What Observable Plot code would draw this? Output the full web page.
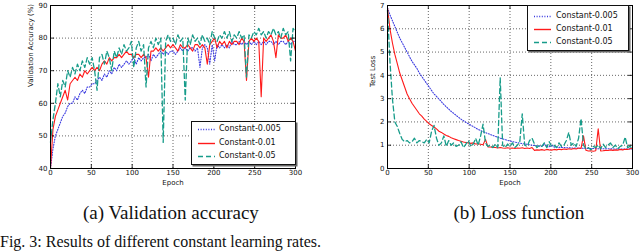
<!DOCTYPE html>
<html>
<head>
<meta charset="utf-8">
<script src="https://cdn.jsdelivr.net/npm/d3@7"></script>
<script src="https://cdn.jsdelivr.net/npm/@observablehq/plot@0.6"></script>
<style>
  html, body { margin: 0; padding: 0; background: #fff; }
  #wrap { position: relative; width: 640px; height: 252px; overflow: hidden; background: #fff; font-family: "DejaVu Sans", sans-serif; }
  .panel { position: absolute; top: 0; }
  .legend { position: absolute; background: #fff; border: 1px solid #111; box-shadow: 1.5px 1.5px 0 #666; font-family: "DejaVu Sans", sans-serif; font-size: 8px; color: #111; }
  .legend .row { position: absolute; left: 0; height: 12px; width: 100%; }
  .legend svg { position: absolute; left: 0; top: 0; }
  .legend span { position: absolute; top: 0; line-height: 12px; white-space: nowrap; }
  .cap { position: absolute; font-family: "Liberation Serif", "Times New Roman", serif; font-size: 19px; color: #111; white-space: nowrap; line-height: 1.1; }
</style>
</head>
<body>
<div id="wrap">
  <div id="left" class="panel" style="left:0px"></div>
  <div id="right" class="panel" style="left:320px"></div>
</div>
<script>
// ---- data ----
const seriesNames = ["Constant-0.005", "Constant-0.01", "Constant-0.05"];
const xTicks = [0, 50, 100, 150, 200, 250, 300];
const accTicks = [40, 50, 60, 70, 80, 90];
const lossTicks = [0, 1, 2, 3, 4, 5, 6, 7];

const epochs = [0,3,6,9,12,15,18,21,24,27,30,33,36,39,42,45,48,51,54,57,60,63,66,69,72,75,78,81,84,87,90,93,96,99,102,105,108,111,114,117,120,123,126,129,132,135,138,141,144,147,150,153,156,159,162,165,168,171,174,177,180,183,186,189,192,195,198,201,204,207,210,213,216,219,222,225,228,231,234,237,240,243,246,249,252,255,258,261,264,267,270,273,276,279,282,285,288,291,294,297,300];

const accB = [40,46,50,52,54,56,57,59,60,60,62,61,63,64,63,65,65,66,66,67,68,67,69,68,70,69,71,70,72,71,72,73,72,73,74,72,74,73,74,74,75,73,75,74,75,76,75,76,75,76,76,75,76,77,76,77,76,77,77,76,77,71,77,78,77,72,78,73,78,77,78,77,78,77,79,78,78,79,78,79,78,79,78,79,78,79,78,79,78,79,79,78,79,78,79,79,78,79,78,79,79];
const accR = [40,52,56,58,60,62,64,61,66,67,68,67,69,68,70,69,70,71,70,71,70,72,73,72,74,73,74,74,75,74,75,76,75,75,74,75,75,74,75,74,68,76,76,77,76,77,76,77,78,77,78,77,76,78,77,77,78,77,76,78,78,77,78,77,72,78,79,80,77,79,78,79,77,79,78,79,79,78,80,79,67,79,80,79,80,79,62,80,79,80,81,79,74,81,80,80,81,79,80,79,76];
const accG = [48,55,60,66,62,67,65,70,68,71,69,72,70,73,71,74,72,74,70,64,74,75,72,76,74,70,76,74,77,75,78,76,77,79,71,77,79,76,78,65,77,79,77,80,78,80,48,79,81,79,80,78,81,79,80,61,80,78,81,79,80,78,81,79,80,78,82,80,79,81,80,82,80,82,79,81,80,82,80,81,68,81,80,82,81,83,81,82,80,82,81,83,81,82,80,83,81,82,73,83,82];

const lossB = [6.9,6.6,6.35,6.1,5.85,5.6,5.4,5.2,5.0,4.8,4.6,4.45,4.3,4.1,3.95,3.8,3.65,3.5,3.35,3.2,3.1,2.98,2.87,2.75,2.65,2.55,2.45,2.37,2.28,2.2,2.12,2.05,1.98,1.92,1.86,1.8,1.74,1.68,1.63,1.58,1.54,1.5,1.46,1.42,1.38,1.34,1.3,1.27,1.24,1.21,1.18,1.16,1.13,1.11,1.09,1.07,1.05,1.04,1.02,1.0,0.99,0.97,0.96,0.95,1.05,0.94,0.93,1.0,0.92,0.91,0.91,0.9,0.9,0.89,0.89,0.88,0.88,0.88,0.87,0.87,0.87,0.86,0.86,0.86,0.86,0.85,0.85,0.85,0.85,0.85,0.85,0.85,0.84,0.84,0.84,0.84,0.84,0.84,0.84,0.84,0.84];
const lossR = [6.9,6.0,5.4,4.9,4.5,4.1,3.8,3.5,3.2,3.0,2.8,2.65,2.5,2.35,2.25,2.12,2.02,1.92,1.85,1.78,1.7,1.6,1.55,1.48,1.42,1.38,1.32,1.28,1.24,1.2,1.17,1.14,1.12,1.1,1.08,1.1,1.05,1.06,1.04,1.02,1.25,0.93,0.92,0.9,0.9,0.88,0.9,0.88,0.87,0.89,0.87,0.88,0.86,0.88,0.87,0.89,0.86,0.88,0.86,0.9,0.78,0.8,0.79,0.81,0.78,0.82,0.8,0.79,0.82,0.8,0.83,0.81,0.84,0.82,0.85,0.83,0.86,0.84,0.88,0.86,1.4,0.78,0.75,0.76,0.74,0.76,1.7,0.75,0.76,0.78,0.77,0.8,0.78,0.8,0.79,0.82,0.8,0.83,0.82,0.85,0.88];
const lossG = [6.8,4.6,3.0,2.0,1.8,1.5,1.25,1.15,1.2,1.1,1.15,1.3,1.1,1.2,1.15,1.1,1.25,1.1,1.6,1.85,1.3,1.0,1.1,1.4,0.95,1.2,1.0,1.1,0.95,1.0,1.15,0.9,1.05,1.2,0.95,1.05,1.3,1.0,1.4,1.9,1.1,0.95,1.0,0.9,1.05,0.9,3.9,1.0,0.9,1.05,0.95,1.1,0.9,1.0,1.15,2.35,1.0,0.95,1.2,1.3,1.05,0.9,1.0,0.95,1.1,0.9,1.15,0.95,1.0,0.9,1.1,0.95,1.0,1.2,1.55,1.0,1.1,0.95,1.3,2.15,1.0,0.85,0.9,0.8,0.95,0.9,1.0,0.85,1.05,0.9,1.0,1.1,0.9,1.0,0.85,0.95,1.0,1.35,0.9,0.95,0.85];

// ---- styles ----
const styles = [
  {stroke: "#3a3ae0", strokeWidth: 1.1, strokeDasharray: "1,1.6"},
  {stroke: "#ff1a1a", strokeWidth: 1.1, strokeDasharray: null},
  {stroke: "#179c8a", strokeWidth: 1.3, strokeDasharray: "5,3"}
];

function rows(vals) { return epochs.map((e, i) => ({epoch: e, v: vals[i]})); }

function panel(opts) {
  const {yDomain, yTicks, series, yLabel, marginLeft, marginRight, tickLenY} = opts;
  const [y0, y1] = yDomain;
  const marks = [
    Plot.ruleX(xTicks.slice(1, -1), {stroke: "#000", strokeOpacity: 0.75, strokeWidth: 0.8, strokeDasharray: "1,2"}),
    Plot.ruleY(yTicks.slice(1, -1), {stroke: "#000", strokeOpacity: 0.75, strokeWidth: 0.8, strokeDasharray: "1,2"}),
  ];
  series.forEach((vals, k) => {
    const s = styles[k];
    const o = {x: "epoch", y: "v", stroke: s.stroke, strokeWidth: s.strokeWidth};
    if (s.strokeDasharray) o.strokeDasharray = s.strokeDasharray;
    marks.push(Plot.line(rows(vals), o));
  });
  // inward ticks (matplotlib style)
  const ty = tickLenY;
  marks.push(Plot.ruleX(xTicks, {y1: y0, y2: y0 + ty, stroke: "#000", strokeWidth: 0.8}));
  marks.push(Plot.ruleX(xTicks, {y1: y1 - ty, y2: y1, stroke: "#000", strokeWidth: 0.8}));
  marks.push(Plot.ruleY(yTicks, {x1: 0, x2: 5, stroke: "#000", strokeWidth: 0.8}));
  marks.push(Plot.ruleY(yTicks, {x1: 295, x2: 300, stroke: "#000", strokeWidth: 0.8}));
  marks.push(Plot.frame({stroke: "#000", strokeWidth: 1}));
  marks.push(Plot.axisX({ticks: xTicks, tickSize: 0, tickPadding: 2, label: null, fontSize: 7, fill: "#111", tickFormat: d => String(d)}));
  marks.push(Plot.axisY({ticks: yTicks, tickSize: 0, tickPadding: 3, label: null, fontSize: 7, fill: "#111", tickFormat: d => String(d)}));
  marks.push(Plot.text(["Epoch"], {text: d => d, frameAnchor: "bottom", dy: 16, fontSize: 7, fill: "#111"}));
  marks.push(Plot.text([yLabel], {text: d => d, frameAnchor: "left", dx: opts.yLabelDx, rotate: -90, fontSize: 7, fill: "#111"}));
  return Plot.plot({
    width: 320, height: 200,
    marginLeft, marginRight, marginTop: 5, marginBottom: 32,
    x: {domain: [0, 300]},
    y: {domain: yDomain},
    style: {fontFamily: "DejaVu Sans, sans-serif", fontSize: "7px", background: "transparent", overflow: "visible"},
    marks
  });
}

document.getElementById("left").appendChild(panel({
  yDomain: [40, 90], yTicks: accTicks, series: [accB, accR, accG],
  yLabel: "Validation Accuracy (%)", marginLeft: 50, marginRight: 25, tickLenY: 1.2, yLabelDx: -20
}));
document.getElementById("right").appendChild(panel({
  yDomain: [0, 7], yTicks: lossTicks, series: [lossB, lossR, lossG],
  yLabel: "Test Loss", marginLeft: 67, marginRight: 8, tickLenY: 0.17, yLabelDx: -15
}));

// ---- legends ----
function legend(left, top, w, h, rowTops, lineX0, lineX1, textX) {
  const wrap = document.getElementById("wrap");
  const box = document.createElement("div");
  box.className = "legend";
  box.style.left = left + "px"; box.style.top = top + "px";
  box.style.width = w + "px"; box.style.height = h + "px";
  seriesNames.forEach((name, k) => {
    const s = styles[k];
    const row = document.createElement("div");
    row.className = "row";
    row.style.top = rowTops[k] + "px";
    const ns = "http://www.w3.org/2000/svg";
    const svg = document.createElementNS(ns, "svg");
    svg.setAttribute("width", w); svg.setAttribute("height", 12);
    const ln = document.createElementNS(ns, "line");
    ln.setAttribute("x1", lineX0); ln.setAttribute("x2", lineX1);
    ln.setAttribute("y1", 6.5); ln.setAttribute("y2", 6.5);
    ln.setAttribute("stroke", s.stroke); ln.setAttribute("stroke-width", s.strokeWidth + 0.3);
    if (s.strokeDasharray) ln.setAttribute("stroke-dasharray", s.strokeDasharray);
    svg.appendChild(ln);
    row.appendChild(svg);
    const sp = document.createElement("span");
    sp.style.left = textX + "px";
    sp.textContent = name;
    row.appendChild(sp);
    box.appendChild(row);
  });
  wrap.appendChild(box);
}
legend(191, 121, 103, 42, [1, 15, 28], 6, 23, 27);
legend(527, 5, 100, 44, [4, 17, 30], 6, 23, 28);

// ---- captions ----
function cap(text, cx, top) {
  const d = document.createElement("div");
  d.className = "cap";
  d.textContent = text;
  document.getElementById("wrap").appendChild(d);
  d.style.left = (cx - d.offsetWidth / 2) + "px";
  d.style.top = top + "px";
}
cap("(a) Validation accuracy", 171, 203);
cap("(b) Loss function", 519, 203);
const fig = document.createElement("div");
fig.className = "cap";
fig.style.left = "0px"; fig.style.top = "233px"; fig.style.fontSize = "16px";
fig.textContent = "Fig. 3: Results of different constant learning rates.";
document.getElementById("wrap").appendChild(fig);
</script>
</body>
</html>
